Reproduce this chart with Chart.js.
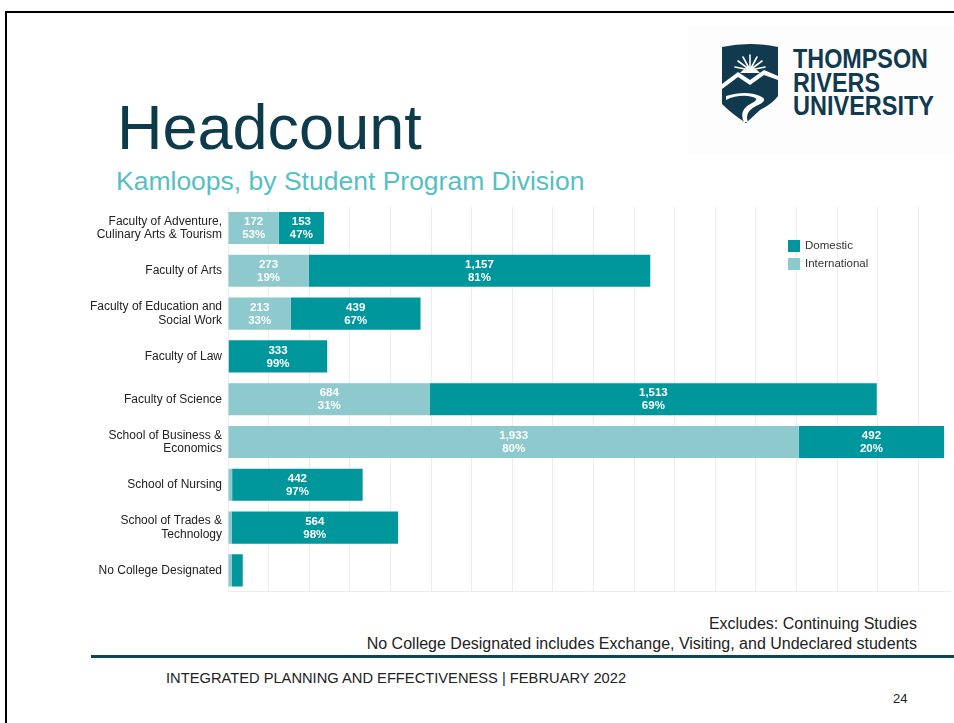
<!DOCTYPE html>
<html><head><meta charset="utf-8">
<script src="https://cdn.jsdelivr.net/npm/chart.js@4/dist/chart.umd.min.js"></script>
<style>
html,body{margin:0;padding:0;background:#fff;width:954px;height:723px;overflow:hidden;font-family:"Liberation Sans",Arial,sans-serif;}
#frame{position:absolute;left:5px;top:11px;width:980px;height:740px;border-top:2px solid #000;border-left:2px solid #000;background:#fff;}
.t{position:absolute;white-space:nowrap;}
#title{left:117px;top:96px;font-size:63px;line-height:63px;color:#0d3b4c;}
#sub{left:116px;top:168px;font-size:26.5px;line-height:26.5px;color:#55bfc4;}
#n1{right:37px;top:616px;font-size:16px;line-height:16px;color:#222;}
#n2{right:37px;top:636px;font-size:16px;line-height:16px;color:#222;}
#rule{position:absolute;left:91px;top:655px;width:880px;height:3px;background:#0e4654;}
#foot{left:166px;top:671px;font-size:14.7px;line-height:14.7px;color:#222;}
#page{left:893px;top:692px;font-size:13px;line-height:13px;color:#222;}
#chartWrap{position:absolute;left:0;top:194px;width:954px;height:417px;}
#logo{position:absolute;left:680px;top:25px;}
</style></head>
<body>
<div id="frame"></div>
<svg id="logo" width="274" height="130" viewBox="680 25 274 130">
  <rect x="688" y="25" width="266" height="130" fill="#fdfdfd"/>
  <path d="M722,47 Q750,41 778,47 L778,96 Q772,104 760,110 L746,123 Q732,114 722,104 Z" fill="#123a4f"/>
  <g stroke="#fff" stroke-width="1.6" stroke-linecap="round">
    <line x1="750" y1="70" x2="750" y2="55"/>
    <line x1="750" y1="70" x2="743" y2="57"/>
    <line x1="750" y1="70" x2="757" y2="57"/>
    <line x1="750" y1="70" x2="738" y2="61"/>
    <line x1="750" y1="70" x2="762" y2="61"/>
    <line x1="750" y1="70" x2="735" y2="67"/>
    <line x1="750" y1="70" x2="765" y2="67"/>
  </g>
  <path d="M740,73 Q750,62 760,73 Z" fill="#fff"/>
  <path d="M722,84 L738,72 L750,80 L764,70 L778,76 L778,80 L764,75 L750,85 L738,77 L722,89 Z" fill="#fff"/>
  <path d="M726,96 Q746,90 760,96 Q770,100 756,106 Q744,112 748,122 L744,122 Q738,110 752,103 Q762,98 748,96 Q736,95 726,100 Z" fill="#fff"/>
  <g font-family="Liberation Sans, Arial, sans-serif" font-weight="bold" fill="#123a4f" font-size="27">
    <text x="793" y="68" textLength="135" lengthAdjust="spacingAndGlyphs">THOMPSON</text>
    <text x="793" y="92" textLength="87" lengthAdjust="spacingAndGlyphs">RIVERS</text>
    <text x="793" y="115" textLength="141" lengthAdjust="spacingAndGlyphs">UNIVERSITY</text>
  </g>
</svg>
<div class="t" id="title">Headcount</div>
<div class="t" id="sub">Kamloops, by Student Program Division</div>
<div id="chartWrap"><canvas id="c" width="954" height="417"></canvas></div>
<div class="t" id="n1">Excludes: Continuing Studies</div>
<div class="t" id="n2">No College Designated includes Exchange, Visiting, and Undeclared students</div>
<div id="rule"></div>
<div class="t" id="foot">INTEGRATED PLANNING AND EFFECTIVENESS | FEBRUARY 2022</div>
<div class="t" id="page">24</div>
<script>
const categories = [
  ["Faculty of Adventure,", "Culinary Arts & Tourism"],
  "Faculty of Arts",
  ["Faculty of Education and", "Social Work"],
  "Faculty of Law",
  "Faculty of Science",
  ["School of Business &", "Economics"],
  "School of Nursing",
  ["School of Trades &", "Technology"],
  "No College Designated"
];
const international = [172, 273, 213, 3, 684, 1933, 14, 12, 12];
const domestic = [153, 1157, 439, 333, 1513, 492, 442, 564, 38];
const seriesNames = ["International", "Domestic"];
const gridStep = 137.5;
const axisMax = 2445;

const COL_DOM = "#00979c";
const COL_INT = "#8ec9cd";

const segLabels = {
  id: "segLabels",
  afterDatasetsDraw(chart) {
    const ctx = chart.ctx;
    ctx.save();
    ctx.font = 'bold 11.5px "Liberation Sans", Arial, sans-serif';
    ctx.fillStyle = "#ffffff";
    ctx.textAlign = "center";
    ctx.textBaseline = "middle";
    chart.data.datasets.forEach((ds, di) => {
      const meta = chart.getDatasetMeta(di);
      meta.data.forEach((el, i) => {
        const v = ds.data[i];
        if (v < 100) return;
        const total = chart.data.datasets.reduce((s, d) => s + d.data[i], 0);
        const pct = Math.round(v / total * 100) + "%";
        const cx = (el.x + el.base) / 2;
        ctx.fillText(v.toLocaleString("en-US"), cx, el.y - 6);
        ctx.fillText(pct, cx, el.y + 7);
      });
    });
    ctx.restore();
  }
};

const insideLegend = {
  id: "insideLegend",
  afterDraw(chart) {
    const ctx = chart.ctx;
    ctx.save();
    ctx.font = '11.5px "Liberation Sans", Arial, sans-serif';
    ctx.textBaseline = "middle";
    ctx.textAlign = "left";
    const items = chart.data.datasets.slice().reverse();
    items.forEach((ds, k) => {
      const y = 52 + k * 18;
      ctx.fillStyle = ds.backgroundColor;
      ctx.fillRect(788, y - 6, 12, 12);
      ctx.fillStyle = "#333";
      ctx.fillText(ds.label, 805, y);
    });
    ctx.restore();
  }
};

new Chart(document.getElementById("c"), {
  type: "bar",
  data: {
    labels: categories,
    datasets: [
      { label: seriesNames[0], data: international, backgroundColor: COL_INT, borderWidth: 0 },
      { label: seriesNames[1], data: domestic, backgroundColor: COL_DOM, borderWidth: 0 }
    ]
  },
  options: {
    indexAxis: "y",
    responsive: false,
    animation: false,
    layout: { padding: { left: 0, right: 4, top: 7, bottom: 9 } },
    datasets: { bar: { categoryPercentage: 1.0, barPercentage: 0.75 } },
    plugins: { legend: { display: false }, tooltip: { enabled: false } },
    scales: {
      x: {
        stacked: true, min: 0, max: axisMax,
        ticks: { display: false },
        afterBuildTicks(axis) {
          const t = [];
          for (let v = 0; v <= axisMax; v += gridStep) t.push({ value: v });
          axis.ticks = t;
        },
        grid: { color: "#ececec", lineWidth: 1, drawTicks: false },
        border: { display: true, color: "#ececec" }
      },
      y: {
        stacked: true,
        afterFit(scale) { scale.width = 228; },
        ticks: { color: "#222", padding: 6, font: { family: '"Liberation Sans", Arial, sans-serif', size: 12, lineHeight: 1.1 } },
        grid: { display: false, drawTicks: false },
        border: { display: false }
      }
    }
  },
  plugins: [segLabels, insideLegend]
});
</script>
</body></html>
